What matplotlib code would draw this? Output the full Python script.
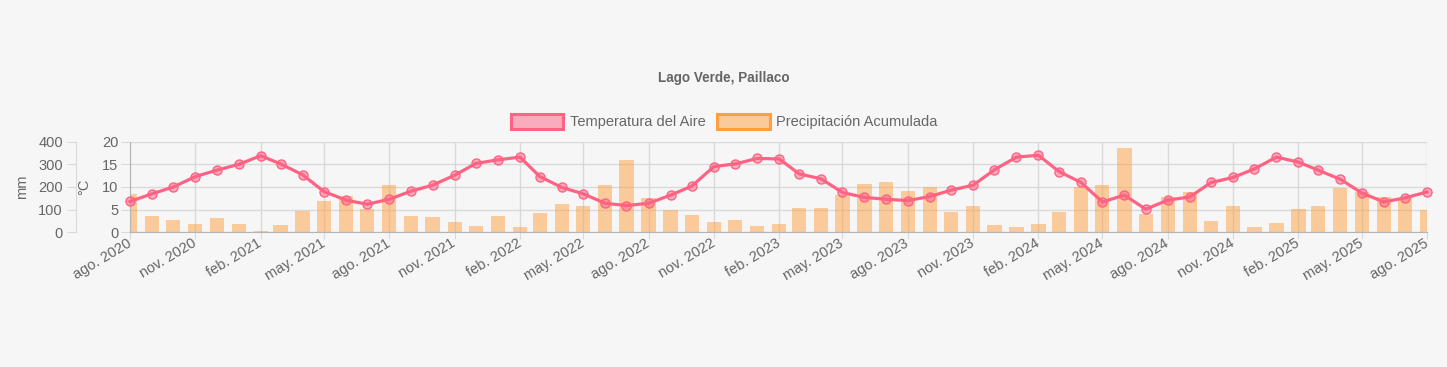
import matplotlib
matplotlib.use("Agg")
import matplotlib.pyplot as plt
from matplotlib.patches import Patch
import pandas as pd

# ---- data ----
start_month = "2020-08-01"
n_months = 61
temperature = [6.8, 8.5, 10.0, 12.3, 13.7, 15.0, 16.9, 15.1, 12.7, 9.0,
               7.1, 6.2, 7.3, 9.1, 10.4, 12.6, 15.2, 16.0, 16.6, 12.3,
               9.9, 8.5, 6.4, 5.9, 6.4, 8.2, 10.2, 14.5, 15.1, 16.3,
               16.2, 12.9, 11.8, 8.8, 7.7, 7.3, 7.0, 7.9, 9.3, 10.4,
               13.8, 16.6, 17.0, 13.4, 11.0, 6.7, 8.2, 5.1, 7.1, 7.8,
               11.0, 12.1, 14.0, 16.6, 15.5, 13.7, 11.7, 8.7, 6.7, 7.6,
               8.9]
precipitation = [170, 71, 54, 38, 63, 37, 7, 32, 94, 139,
                 161, 103, 210, 73, 68, 45, 28, 73, 23, 87,
                 126, 116, 209, 319, 151, 100, 76, 47, 54, 28,
                 38, 109, 109, 165, 215, 222, 182, 199, 91, 116,
                 34, 23, 38, 91, 200, 210, 374, 82, 157, 177,
                 50, 118, 23, 40, 103, 118, 194, 177, 155, 150,
                 100]
x_tick_labels = ["ago. 2020", "nov. 2020", "feb. 2021", "may. 2021", "ago. 2021",
                 "nov. 2021", "feb. 2022", "may. 2022", "ago. 2022", "nov. 2022",
                 "feb. 2023", "may. 2023", "ago. 2023", "nov. 2023", "feb. 2024",
                 "may. 2024", "ago. 2024", "nov. 2024", "feb. 2025", "may. 2025",
                 "ago. 2025"]
temp_ticks = [0, 5, 10, 15, 20]
mm_ticks = [0, 100, 200, 300, 400]
title = "Lago Verde, Paillaco"
label_temp = "Temperatura del Aire"
label_prec = "Precipitación Acumulada"

months = pd.date_range(start_month, periods=n_months, freq="MS")
tick_dates = months[::3]

# ---- style ----
plt.rcParams["font.family"] = ["Liberation Sans", "DejaVu Sans"]
BG = "#f6f6f6"
TXT = "#666666"
GRID = "#d9d9d9"
SPINE = "#b4b4b4"
PINK = "#ff6384"
PINK_FILL = (1.0, 99 / 255, 132 / 255, 0.5)
ORANGE = "#ff9f40"
ORANGE_FILL = (1.0, 159 / 255, 64 / 255, 0.5)
TICK_FS = 10.5

W, H = 1447, 367
fig = plt.figure(figsize=(W / 100, H / 100), dpi=100, facecolor=BG)
L, R, T, B = 130, 1427, 141.7, 232.3
ax = fig.add_axes([L / W, 1 - B / H, (R - L) / W, (B - T) / H])
ax.set_facecolor(BG)

# bars on main axis (mm)
ax.bar(months, precipitation, width=20, color=ORANGE_FILL, linewidth=0, zorder=2)
ax.set_ylim(0, 400)
ax.set_yticks(mm_ticks)
ax.set_xlim(months[0], months[-1])
ax.set_xticks(tick_dates)
ax.set_xticklabels(x_tick_labels)
ax.grid(True, color=GRID, linewidth=1)
ax.set_axisbelow(True)
for s in ["top", "right"]:
    ax.spines[s].set_visible(False)
ax.spines["left"].set_position(("outward", 38.9))
ax.spines["left"].set_color(GRID)
ax.spines["bottom"].set_color(SPINE)
ax.tick_params(axis="y", length=6.5, color=GRID, labelcolor=TXT, labelsize=TICK_FS, pad=3)
ax.tick_params(axis="x", length=5, color=GRID, labelcolor=TXT, labelsize=TICK_FS, pad=2)
for lab in ax.get_xticklabels():
    lab.set_rotation(31)
    lab.set_ha("right")
    lab.set_va("center")
    lab.set_rotation_mode("anchor")
ax.set_ylabel("mm", color=TXT, fontsize=10.5)
ax.yaxis.label.set_va("center")
ax.yaxis.set_label_coords((22 - L) / (R - L), 0.5)

# temperature on twin axis
ax_t = ax.twinx()
ax_t.plot(months, temperature, color=PINK, linewidth=2.3, marker="o",
          markersize=6.5, markerfacecolor=PINK_FILL, markeredgecolor=PINK,
          markeredgewidth=1, zorder=3, clip_on=False)
ax_t.set_ylim(0, 20)
ax_t.set_yticks(temp_ticks)
ax_t.yaxis.set_ticks_position("left")
ax_t.yaxis.set_label_position("left")
for s in ["top", "right", "bottom"]:
    ax_t.spines[s].set_visible(False)
ax_t.spines["left"].set_visible(True)
ax_t.spines["left"].set_color(SPINE)
ax_t.tick_params(axis="y", length=6.5, color=GRID, labelcolor=TXT, labelsize=TICK_FS, pad=2)
ax_t.set_ylabel("°C", color=TXT, fontsize=10.5)
ax_t.yaxis.label.set_va("center")
ax_t.yaxis.set_label_coords((84 - L) / (R - L), 0.5)

# title
fig.text(0.5, 1 - 78 / H, title, ha="center", va="center", fontsize=9.75,
         fontweight="bold", color=TXT)

# legend
handles = [Patch(facecolor=PINK_FILL, edgecolor=PINK, linewidth=2.2, label=label_temp),
           Patch(facecolor=ORANGE_FILL, edgecolor=ORANGE, linewidth=2.2, label=label_prec)]
leg = fig.legend(handles=handles, loc="center", bbox_to_anchor=(724 / W, 1 - 121.5 / H),
                 ncol=2, frameon=False, fontsize=10.5, handlelength=3.6,
                 handleheight=1.2, handletextpad=0.45, columnspacing=0.8,
                 borderpad=0, borderaxespad=0)
for t in leg.get_texts():
    t.set_color(TXT)

fig.savefig("out.png", dpi=100, facecolor=BG)
